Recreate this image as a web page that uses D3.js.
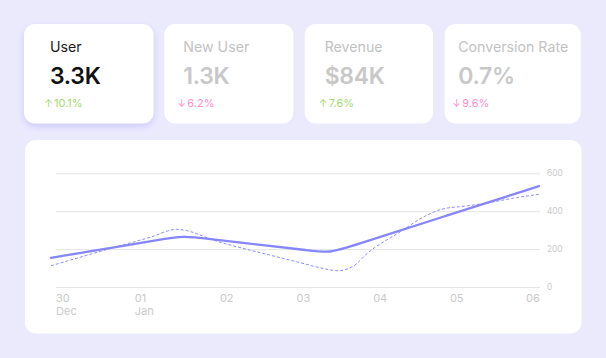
<!DOCTYPE html>
<html><head><meta charset="utf-8">
<script src="https://cdn.jsdelivr.net/npm/d3@7/dist/d3.min.js"></script>
<style>
html,body{margin:0;padding:0;background:#ebeafd;}
svg{display:block;font-family:Inter,"Noto Sans",sans-serif;}
</style></head>
<body><svg id="c" width="606" height="358"></svg>
<script>
// ---- data ----
const cardTitles = ["User", "New User", "Revenue", "Conversion Rate"];
const cardValues = ["3.3K", "1.3K", "$84K", "0.7%"];
const cardChanges = ["10.1%", "6.2%", "7.6%", "9.6%"];
const cardDirections = ["up", "down", "up", "down"];
const activeCard = 0;

const tickDays = [0, 1, 2, 3, 4, 5, 6];
const tickLabels = [["30", "Dec"], ["01", "Jan"], ["02"], ["03"], ["04"], ["05"], ["06"]];
const yTicks = [0, 200, 400, 600];

// day offset (fractional), value
const solidDays   = [-0.29, 0.5, 1.13, 1.43, 1.73, 2.4, 3.1, 3.35, 3.6, 4.8, 6.07];
const solidValues = [154, 207, 250, 270, 256, 224, 192, 180, 212, 368, 532];
const dashDays    = [-0.29, 0.5, 1.0, 1.35, 1.9, 2.96, 3.2, 3.45, 3.65, 3.83, 4.26, 4.6, 4.8, 5.13, 5.43, 5.78, 6.07];
const dashValues  = [112, 205, 262, 304, 238, 128, 103, 86, 110, 177, 291, 377, 410, 428, 446, 472, 489];

// ---- layout ----
const svg = d3.select("#c");
const cardBoxes = [[24, 129.5, 26], [164.3, 129, 19], [304.7, 128.3, 20], [444.7, 136, 13.5]]; // x, width, text pad
const cardY = 24, cardH = 99.5;

const defs = svg.append("defs");
const f = defs.append("filter").attr("id", "sh").attr("x", "-20%").attr("y", "-20%").attr("width", "140%").attr("height", "150%");
f.append("feDropShadow").attr("dx", 0).attr("dy", 3).attr("stdDeviation", 3.5)
  .attr("flood-color", "#a9a2f5").attr("flood-opacity", 0.45);

const cards = svg.selectAll("g.card").data(cardTitles).join("g").attr("class", "card")
  .attr("transform", (d, i) => `translate(${cardBoxes[i][0]},${cardY})`);
cards.append("rect").attr("width", (d, i) => cardBoxes[i][1]).attr("height", cardH)
  .attr("rx", 11).attr("fill", "#fff")
  .attr("filter", (d, i) => i === activeCard ? "url(#sh)" : null);
cards.append("text").attr("x", (d, i) => cardBoxes[i][2]).attr("y", 28.3)
  .attr("font-size", 14.2).attr("fill", (d, i) => i === activeCard ? "#1a1a1a" : "#c2c2c2")
  .text(d => d);
cards.append("text").attr("x", (d, i) => cardBoxes[i][2]).attr("y", 60.3)
  .attr("font-size", 23).attr("font-weight", 600).attr("letter-spacing", -0.3)
  .attr("fill", (d, i) => i === activeCard ? "#111" : "#c8c8c8")
  .text((d, i) => cardValues[i]);
const colorOf = i => cardDirections[i] === "up" ? "#9fdc6e" : "#ff8fcf";
cards.append("text").attr("y", 82.5).attr("x", (d, i) => cardBoxes[i][2] + 2.6)
  .attr("text-anchor", "end").attr("font-size", 10).attr("fill", (d, i) => colorOf(i))
  .text((d, i) => cardDirections[i] === "up" ? "↑" : "↓");
cards.append("text").attr("y", 82.5).attr("x", (d, i) => cardBoxes[i][2] + 4)
  .attr("font-size", 11).attr("fill", (d, i) => colorOf(i))
  .text((d, i) => cardChanges[i]);

// chart card
svg.append("rect").attr("x", 25).attr("y", 140).attr("width", 556.5).attr("height", 193.5)
  .attr("rx", 11).attr("fill", "#fff");

const x = d3.scaleLinear().domain([-0.29, 6.07]).range([51, 539]);
const y = d3.scaleLinear().domain([0, 600]).range([287, 173.3]);
const gridX0 = 55.7, gridX1 = 540;

const grid = svg.append("g").attr("transform", `translate(${gridX1},0)`)
  .call(d3.axisLeft(y).tickValues(yTicks).tickSize(gridX1 - gridX0).tickFormat(""));
grid.select(".domain").remove();
grid.selectAll(".tick line").attr("stroke", "#e4e4e4").attr("stroke-width", 1);

const yAx = svg.append("g").attr("transform", `translate(547,0)`)
  .call(d3.axisRight(y).tickValues(yTicks).tickSize(0).tickPadding(0));
yAx.select(".domain").remove();
yAx.selectAll("text").attr("font-size", 8.3).attr("fill", "#c9c9c9").attr("font-family", "Inter,sans-serif");

// x labels
const xl = svg.append("g").selectAll("text").data(tickDays).join("text")
  .attr("font-size", 11).attr("fill", "#c9c9c9").attr("y", 302);
xl.each(function (d, i) {
  const t = d3.select(this);
  tickLabels[i].forEach((s, j) => t.append("tspan").attr("dy", j ? 13 : 0).text(s));
});
xl.each(function (d, i) {
  const t = d3.select(this);
  const w = this.getBBox().width;
  let left = x(d) - w / 2;
  if (left < gridX0 - 1) left = gridX0 - 1;
  if (left + w > gridX1) left = gridX1 - w;
  t.attr("x", left);
  t.selectAll("tspan").attr("x", left);
});

const dashLine = d3.line().x(d => x(d[0])).y(d => y(d[1])).curve(d3.curveMonotoneX);
const solidLine = d3.line().x(d => x(d[0])).y(d => y(d[1])).curve(d3.curveBasis);
svg.append("path").datum(dashDays.map((d, i) => [d, dashValues[i]]))
  .attr("d", dashLine).attr("fill", "none").attr("stroke", "#8b8cfb")
  .attr("stroke-width", 1).attr("stroke-dasharray", "3,2");
svg.append("path").datum(solidDays.map((d, i) => [d, solidValues[i]]))
  .attr("d", solidLine).attr("fill", "none").attr("stroke", "#8586fb")
  .attr("stroke-width", 2.3).attr("stroke-linecap", "round");
</script></body></html>
